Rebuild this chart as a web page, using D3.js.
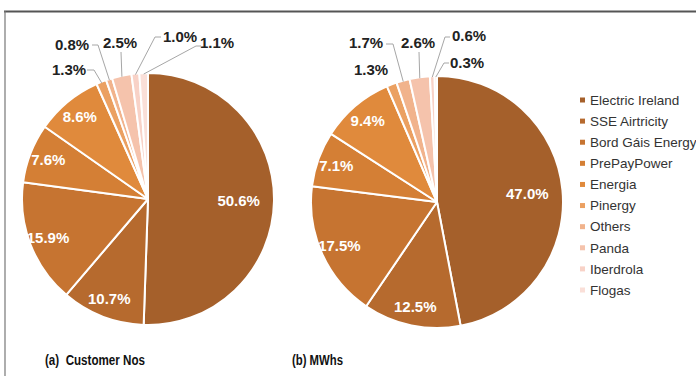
<!DOCTYPE html>
<html>
<head>
<meta charset="utf-8">
<script src="https://cdn.jsdelivr.net/npm/d3@7"></script>
<style>
  html, body { margin: 0; padding: 0; background: #fff; }
  svg { display: block; font-family: "Liberation Sans", Arial, sans-serif; }
</style>
</head>
<body>
<script>
// suppliers, in legend / slice order
var suppliers = ['Electric Ireland', 'SSE Airtricity', 'Bord Gáis Energy', 'PrePayPower', 'Energia',
  'Pinergy', 'Others', 'Panda', 'Iberdrola', 'Flogas'];
var customerShare = [50.6, 10.7, 15.9, 7.6, 8.6, 1.3, 0.8, 2.5, 1.0, 1.1];
var mwhShare = [47.0, 12.5, 17.5, 7.1, 9.4, 1.3, 1.7, 2.6, 0.6, 0.3];
var captions = ['(a)  Customer Nos', '(b) MWhs'];

var colors = ['#a5602b', '#b66a2e', '#c67431', '#d47f35', '#e08a3c',
  '#eba061', '#f1b38c', '#f5c3ac', '#f8d2c7', '#fadfd8'];

// callout placement for the thin slices (relative to the pie centre)
var calloutsA = {
  5: { text: [-79, -129], start: [-61, -129], elbow: [-54, -129] },
  6: { text: [-76, -154], start: [-56, -154], elbow: [-50, -154] },
  7: { text: [-28, -156], start: [-27, -147], elbow: [-27, -147] },
  8: { text: [32, -162], start: [13, -162], elbow: [7, -162] },
  9: { text: [69, -156], start: [53, -153], elbow: [48, -153] }
};
var calloutsB = {
  5: { text: [-66, -132] },
  6: { text: [-71, -159], start: [-51, -158], elbow: [-44, -158] },
  7: { text: [-19, -159], start: [-18, -150], elbow: [-18, -150] },
  8: { text: [32, -166], start: [13, -165], elbow: [8, -165] },
  9: { text: [30, -139], start: [12, -139], elbow: [7, -139] }
};

var width = 696, height = 376;
var radius = 126;

var svg = d3.select('body').append('svg')
  .attr('width', width)
  .attr('height', height);

// frame
svg.append('line').attr('x1', 4).attr('x2', width).attr('y1', 11.5).attr('y2', 11.5)
  .attr('stroke', '#555').attr('stroke-width', 2);
svg.append('line').attr('x1', 5).attr('x2', 5).attr('y1', 11).attr('y2', height)
  .attr('stroke', '#777').attr('stroke-width', 1.2);

var pie = d3.pie().sort(null).value(d => d);
var arc = d3.arc().innerRadius(0).outerRadius(radius);

function drawPie(values, cx, cy, callouts, caption, capX, capW) {
  var g = svg.append('g').attr('transform', `translate(${cx},${cy})`);
  var arcs = pie(values);

  g.selectAll('path.slice')
    .data(arcs)
    .enter().append('path')
    .attr('class', 'slice')
    .attr('d', arc)
    .attr('fill', (d, i) => colors[i])
    .attr('stroke', '#fff')
    .attr('stroke-width', 2)
    .attr('stroke-linejoin', 'round');

  arcs.forEach((d, i) => {
    var c = callouts[i];
    var label = d3.format('.1f')(d.data) + '%';
    if (!c) {
      var k = d.data > 30 ? 0.72 : 0.85;
      var a = (d.startAngle + d.endAngle) / 2;
      g.append('text')
        .attr('x', Math.sin(a) * radius * k)
        .attr('y', -Math.cos(a) * radius * k)
        .attr('dy', '0.35em')
        .attr('text-anchor', 'middle')
        .attr('fill', '#fff')
        .attr('font-weight', 'bold')
        .attr('font-size', 15)
        .text(label);
      return;
    }
    if (c.start) {
      var m = (d.startAngle + d.endAngle) / 2;
      var end = [Math.sin(m) * (radius - 1), -Math.cos(m) * (radius - 1)];
      g.append('polyline')
        .attr('points', [c.start, c.elbow, end].map(p => p.join(',')).join(' '))
        .attr('fill', 'none')
        .attr('stroke', '#a6a6a6')
        .attr('stroke-width', 1);
    }
    g.append('text')
      .attr('x', c.text[0])
      .attr('y', c.text[1])
      .attr('dy', '0.35em')
      .attr('text-anchor', 'middle')
      .attr('fill', '#222')
      .attr('font-weight', 'bold')
      .attr('font-size', 15)
      .text(label);
  });

  svg.append('text')
    .attr('x', capX)
    .attr('y', 365)
    .attr('font-weight', 'bold')
    .attr('font-size', 14)
    .attr('fill', '#111')
    .attr('textLength', capW)
    .attr('lengthAdjust', 'spacingAndGlyphs')
    .style('white-space', 'pre')
    .text(caption);
}

drawPie(customerShare, 148, 199, calloutsA, captions[0], 45, 100);
drawPie(mwhShare, 437, 202, calloutsB, captions[1], 292, 51);

// legend
var legendY = d3.scalePoint().domain(suppliers).range([100, 290]);
var legend = svg.append('g').selectAll('g')
  .data(suppliers)
  .enter().append('g')
  .attr('transform', d => `translate(580,${legendY(d)})`);

legend.append('rect')
  .attr('x', 0).attr('y', -2.5)
  .attr('width', 5).attr('height', 5)
  .attr('fill', (d, i) => colors[i]);

legend.append('text')
  .attr('x', 10)
  .attr('dy', '0.35em')
  .attr('font-size', 13.5)
  .attr('fill', '#333')
  .text(d => d);
</script>
</body>
</html>
